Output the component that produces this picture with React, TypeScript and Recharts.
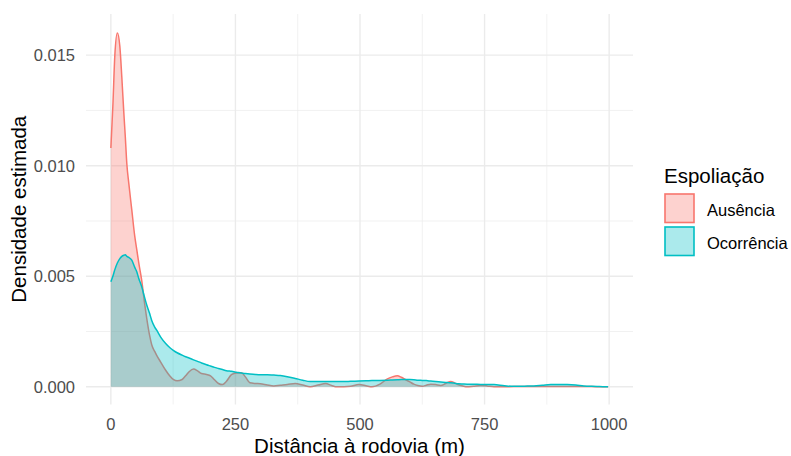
import { Area, AreaChart, CartesianGrid, Label, XAxis, YAxis } from 'recharts';

// distance to the road (m) where both density curves are read
const distances = [
  0, 4, 8, 13, 18, 22, 26, 29, 32, 36, 42, 48, 52, 56, 62, 67, 72, 78, 82, 88,
  92, 100, 110, 118, 126, 133, 143, 150, 157, 166, 174, 182, 192, 200, 208, 216, 224, 232, 242, 252,
  262, 270, 279, 290, 300, 314, 327, 340, 354, 370, 385, 400, 416, 431, 443, 454, 468, 481, 498, 512,
  524, 540, 555, 565, 575, 583, 591, 600, 608, 616, 625, 633, 642, 652, 662, 672, 682, 690, 698, 706,
  715, 728, 742, 755, 769, 790, 809, 830, 849, 866, 883, 900, 916, 933, 949, 965, 980, 998,
];

const ausencia = [
  0.0108, 0.0127, 0.015, 0.016, 0.0154, 0.014, 0.0124, 0.0113, 0.0101, 0.0092, 0.008, 0.0068, 0.0062, 0.0056, 0.0048, 0.0039, 0.0031, 0.0023, 0.0019, 0.0016,
  0.00142, 0.00112, 0.00075, 0.0005, 0.00032, 0.00027, 0.00033, 0.0005, 0.00068, 0.0008, 0.00072, 0.0006, 0.00056, 0.0005, 0.00032, 0.00015, 0.0001, 0.00025, 0.00055, 0.00063,
  0.00064, 0.00045, 0.00018, 0.00015, 0.00014, 0.00008, 0.00004, 0.00007, 0.0001, 0.00015, 0.00008, 0.0, 0.00008, 0.00015, 0.00006, 0.0, 0.0, 0.00002, 0.0001, 0.00005,
  0.0, 0.00012, 0.00036, 0.00045, 0.0005, 0.00043, 0.00033, 0.00022, 0.00012, 0.00006, 0.00003, 0.00007, 0.00012, 0.0001, 0.00006, 0.00015, 0.00024, 0.00018, 0.00009, 0.00004,
  0.0, 0.00003, 0.00006, 0.00004, 0.0, 0.0, 0.00001, 0.00001, 0.00001, 0.00001, 0.00001, 0.00001, 0.00001, 0.00001, 0.00001, 0.00001, 0.0, 0.0,
];

const ocorrencia = [
  0.00475, 0.005, 0.0053, 0.0056, 0.0058, 0.0059, 0.00595, 0.00597, 0.0059, 0.00585, 0.00573, 0.0054, 0.0052, 0.0049, 0.00452, 0.0041, 0.0037, 0.0033, 0.003, 0.0027,
  0.00256, 0.00225, 0.00196, 0.00178, 0.00164, 0.00154, 0.00143, 0.00136, 0.0013, 0.00122, 0.00115, 0.00108, 0.001, 0.00094, 0.00088, 0.00083, 0.00078, 0.00073, 0.0007, 0.00066,
  0.00062, 0.0006, 0.00058, 0.00056, 0.00055, 0.00055, 0.00053, 0.00051, 0.00046, 0.00038, 0.0003, 0.00024, 0.00024, 0.00024, 0.00024, 0.00024, 0.00024, 0.00025, 0.00026, 0.00027,
  0.00028, 0.00029, 0.0003, 0.00031, 0.00032, 0.00033, 0.00033, 0.00033, 0.00032, 0.0003, 0.00029, 0.00028, 0.00026, 0.00024, 0.00022, 0.0002, 0.00018, 0.00016, 0.00014, 0.00013,
  0.00012, 0.00012, 0.00011, 0.00011, 0.0001, 0.00005, 0.00002, 0.00003, 0.00004, 0.00007, 0.0001, 0.0001, 0.0001, 0.00008, 0.00004, 0.00002, 0.00001, 0.0,
];

const xTicks = [0, 250, 500, 750, 1000];
const xMinor = [125, 375, 625, 875];
const yTicks = [0, 0.005, 0.01, 0.015];
const yMinor = [0.0025, 0.0075, 0.0125];

const groups = [
  { key: 'ausencia', name: 'Ausência', color: '#F8766D' },
  { key: 'ocorrencia', name: 'Ocorrência', color: '#00BFC4' },
];

const data = distances.map((d, i) => ({ d, ausencia: ausencia[i], ocorrencia: ocorrencia[i] }));

const FONT = '"Liberation Sans", Arial, sans-serif';
const FILL_OPACITY = 0.33;

export default function App() {
  return (
    <div style={{ position: 'absolute', left: 0, top: 0, width: 791, height: 456, fontFamily: FONT }}>
      <AreaChart width={791} height={456} data={data} margin={{ top: 14, right: 158, bottom: 0, left: 0 }}>
        <CartesianGrid horizontalValues={yMinor} verticalValues={xMinor} stroke="#EBEBEB" strokeWidth={0.7} />
        <CartesianGrid horizontalValues={yTicks} verticalValues={xTicks} stroke="#EBEBEB" strokeWidth={1.4} />
        <XAxis
          dataKey="d"
          type="number"
          domain={[-49.9, 1047.9]}
          allowDataOverflow
          ticks={xTicks}
          height={51.5}
          axisLine={false}
          tickLine={false}
          tickSize={0}
          tickMargin={14}
          tick={{ fontSize: 16.5, fill: '#4D4D4D', fontFamily: FONT }}
        >
          <Label
            content={({ viewBox }: any) => (
              <text
                x={viewBox.x + viewBox.width / 2}
                y={viewBox.y + viewBox.height - 3}
                textAnchor="middle"
                fontSize={20.5}
                fill="#000"
                fontFamily={FONT}
              >
                Distância à rodovia (m)
              </text>
            )}
          />
        </XAxis>
        <YAxis
          type="number"
          domain={[-0.0008, 0.01686]}
          allowDataOverflow
          ticks={yTicks}
          width={86}
          axisLine={false}
          tickLine={false}
          tickSize={0}
          tickMargin={11}
          tickFormatter={(v: number) => v.toFixed(3)}
          tick={{ fontSize: 16.5, fill: '#4D4D4D', fontFamily: FONT }}
        >
          <Label
            content={({ viewBox }: any) => {
              const cy = viewBox.y + viewBox.height / 2;
              return (
                <text
                  transform={`translate(26, ${cy}) rotate(-90)`}
                  textAnchor="middle"
                  fontSize={20.5}
                  fill="#000"
                  fontFamily={FONT}
                >
                  Densidade estimada
                </text>
              );
            }}
          />
        </YAxis>
        {groups.map((g) => (
          <Area
            key={g.key}
            dataKey={g.key}
            name={g.name}
            type="monotone"
            baseValue={0}
            stroke={g.color}
            strokeWidth={1.5}
            fill={g.color}
            fillOpacity={FILL_OPACITY}
            dot={false}
            activeDot={false}
            isAnimationActive={false}
          />
        ))}
      </AreaChart>
      <svg
        width={791}
        height={456}
        style={{ position: 'absolute', left: 0, top: 0, pointerEvents: 'none' }}
      >
        <text x={664} y={183} fontSize={20.5} fill="#000" fontFamily={FONT}>
          Espoliação
        </text>
        {groups.map((g, i) => (
          <g key={g.key}>
            <rect
              x={665}
              y={194 + i * 33}
              width={29}
              height={28.5}
              fill={g.color}
              fillOpacity={FILL_OPACITY}
              stroke={g.color}
              strokeWidth={1.6}
            />
            <text x={707} y={215.5 + i * 33.5} fontSize={16.5} fill="#000" fontFamily={FONT}>
              {g.name}
            </text>
          </g>
        ))}
      </svg>
    </div>
  );
}
